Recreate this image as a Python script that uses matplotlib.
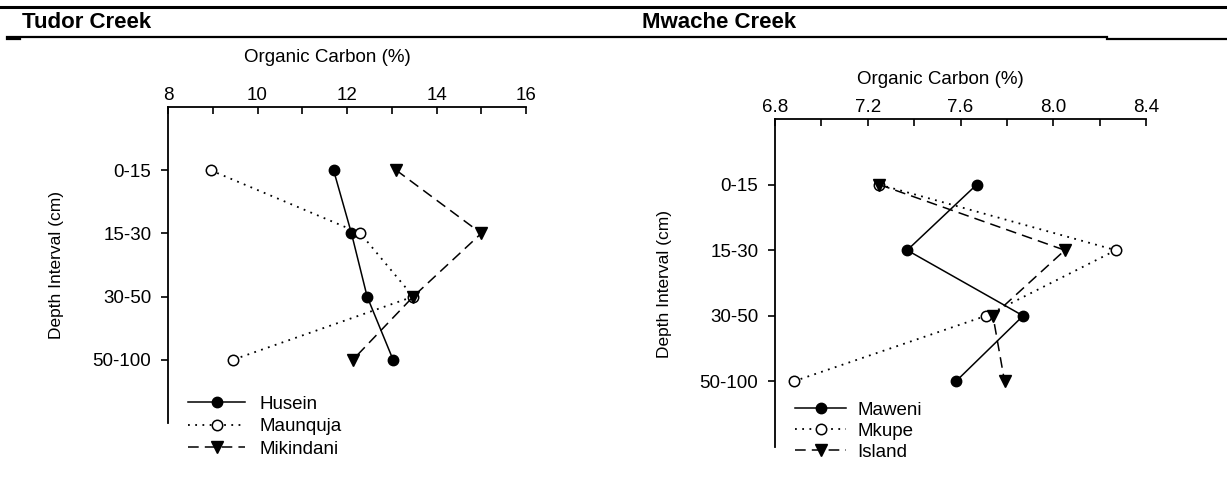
import numpy as np
import matplotlib
matplotlib.use("Agg")
import matplotlib.pyplot as plt
from matplotlib.lines import Line2D

# depth intervals (top to bottom)
depths = ["0-15", "15-30", "30-50", "50-100"]

# Tudor Creek, organic carbon (%)
husein = [11.7, 12.1, 12.45, 13.03]
maunquja = [8.95, 12.3, 13.48, 9.45]
mikindani = [13.1, 15.0, 13.48, 12.13]
tudor_ticks = [8, 10, 12, 14, 16]

# Mwache Creek, organic carbon (%)
maweni = [7.67, 7.37, 7.87, 7.58]
mkupe = [7.25, 8.27, 7.71, 6.88]
island = [7.25, 8.05, 7.74, 7.79]
mwache_ticks = [6.8, 7.2, 7.6, 8.0, 8.4]

plt.rcParams['font.family'] = ['Liberation Sans', 'DejaVu Sans']

W, H = 1227, 494
fig = plt.figure(figsize=(W / 100, H / 100), dpi=100)


def px_axes(x0, x1, y0, y1):
    # axes box from pixel coords (y measured from top)
    return fig.add_axes([x0 / W, 1 - y1 / H, (x1 - x0) / W, (y1 - y0) / H])


def style_axes(ax, ticks, fmt):
    ax.set_xlim(ticks[0], ticks[-1])
    ax.set_ylim(5, 0)
    ax.xaxis.tick_top()
    ax.spines['right'].set_visible(False)
    ax.spines['bottom'].set_visible(False)
    ax.spines['left'].set_linewidth(1.3)
    ax.spines['top'].set_linewidth(1.3)
    ax.set_xticks(ticks)
    ax.set_xticklabels([fmt.format(t) for t in ticks])
    step = ticks[1] - ticks[0]
    ax.set_xticks(np.arange(ticks[0] + step / 2, ticks[-1], step), minor=True)
    ax.tick_params(axis='x', which='both', direction='in', length=5, width=1.2,
                   labelsize=13.5, pad=2, top=True, bottom=False)
    ax.set_yticks(range(1, len(depths) + 1))
    ax.set_yticklabels(depths)
    ax.tick_params(axis='y', direction='out', length=5, width=1.2,
                   labelsize=13.5, pad=7)
    ax.patch.set_visible(False)


def draw_series(ax, values, style):
    y = np.arange(1, len(values) + 1)
    ax.plot(values, y, clip_on=False, **style)


solid = dict(color='black', linestyle='-', linewidth=1.1, marker='o',
             markersize=7.5, markerfacecolor='black')
dotted = dict(color='black', linestyle=(0, (1, 3)), linewidth=1.3, marker='o',
              markersize=7.5, markerfacecolor='white', markeredgewidth=1.1)
dashed = dict(color='black', linestyle=(0, (7, 4)), linewidth=1.1, marker='v',
              markersize=8.5, markerfacecolor='black')

# header rules
fig.add_artist(Line2D([0, 1], [1 - 7 / H, 1 - 7 / H], color='black', linewidth=2.2))
fig.add_artist(Line2D([7 / W, 1107 / W], [1 - 37 / H, 1 - 37 / H], color='black', linewidth=1.6))
fig.add_artist(Line2D([1107 / W, 1], [1 - 39 / H, 1 - 39 / H], color='black', linewidth=1.6))
fig.add_artist(Line2D([7 / W, 20 / W], [1 - 39 / H, 1 - 39 / H], color='black', linewidth=1.6))
fig.text(22 / W, 1 - 22 / H, "Tudor Creek", fontsize=16, fontweight='bold', va='center')
fig.text(642 / W, 1 - 22 / H, "Mwache Creek", fontsize=16, fontweight='bold', va='center')

# Tudor Creek panel
ax1 = px_axes(168, 526, 107, 423)
style_axes(ax1, tudor_ticks, "{:d}")
draw_series(ax1, husein, solid)
draw_series(ax1, maunquja, dotted)
draw_series(ax1, mikindani, dashed)
fig.text(327 / W, 1 - 58 / H, "Organic Carbon (%)", fontsize=13.5, ha='center', va='center')
fig.text(57 / W, 1 - 265 / H, "Depth Interval (cm)", fontsize=12.5, rotation=90,
         ha='center', va='center')
leg1 = [Line2D([], [], **solid), Line2D([], [], **dotted), Line2D([], [], **dashed)]
fig.legend(leg1, ["Husein", "Maunquja", "Mikindani"], loc='upper left',
           bbox_to_anchor=(179 / W, 1 - 386 / H), frameon=False, fontsize=13.5,
           handlelength=3.0, handletextpad=0.8, labelspacing=0.3, borderpad=0)

# Mwache Creek panel
ax2 = px_axes(775, 1146, 119, 447)
style_axes(ax2, mwache_ticks, "{:.1f}")
draw_series(ax2, maweni, solid)
draw_series(ax2, mkupe, dotted)
draw_series(ax2, island, dashed)
fig.text(940 / W, 1 - 80 / H, "Organic Carbon (%)", fontsize=13.5, ha='center', va='center')
fig.text(665 / W, 1 - 284 / H, "Depth Interval (cm)", fontsize=12.5, rotation=90,
         ha='center', va='center')
leg2 = [Line2D([], [], **solid), Line2D([], [], **dotted), Line2D([], [], **dashed)]
fig.legend(leg2, ["Maweni", "Mkupe", "Island"], loc='upper left',
           bbox_to_anchor=(786 / W, 1 - 392 / H), frameon=False, fontsize=13.5,
           handlelength=2.7, handletextpad=0.6, labelspacing=0.22, borderpad=0)

fig.savefig("out.png", dpi=100)
